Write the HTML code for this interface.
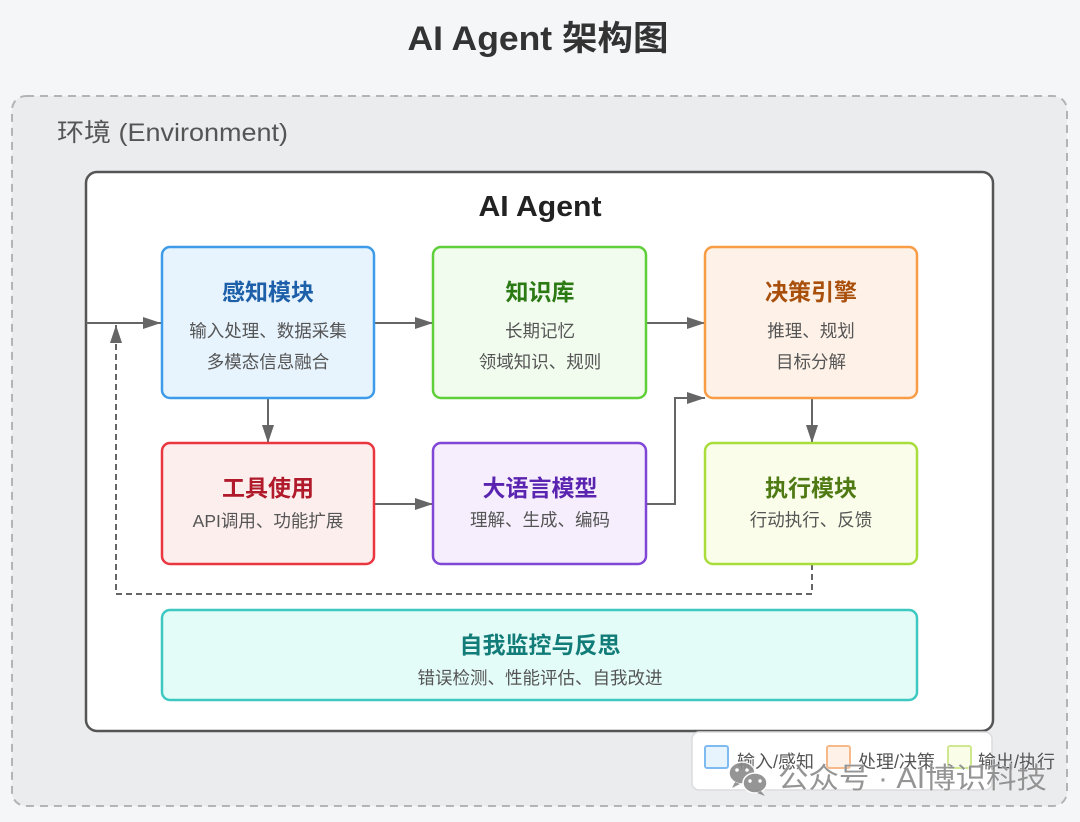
<!DOCTYPE html>
<html>
<head>
<meta charset="utf-8">
<style>
  html,body{margin:0;padding:0;background:#f5f6f8;}
  svg{display:block;}
  text{font-family:"Liberation Sans","Noto Sans CJK SC",sans-serif;}
</style>
</head>
<body>
<svg width="1080" height="822" viewBox="0 0 1080 822" xmlns="http://www.w3.org/2000/svg">
  <defs>
    <marker id="ah" viewBox="0 0 18 12" refX="18" refY="6" markerWidth="18" markerHeight="12" markerUnits="userSpaceOnUse" orient="auto">
      <path d="M0,0 L18,6 L0,12 z" fill="#666"/>
    </marker>
  </defs>
  <rect x="0" y="0" width="1080" height="822" fill="#f5f6f8"/>

  <!-- Title -->
  <text x="538" y="39" text-anchor="middle" dominant-baseline="central" font-size="34" font-weight="bold" fill="#333" textLength="261" lengthAdjust="spacingAndGlyphs">AI Agent 架构图</text>

  <!-- Environment -->
  <rect x="12" y="96" width="1055" height="710" rx="14" ry="14" fill="#ebecee" stroke="#b4b4b6" stroke-width="2" stroke-dasharray="8 6"/>
  <text x="57" y="133" dominant-baseline="central" font-size="25" fill="#555" textLength="231" lengthAdjust="spacingAndGlyphs">环境 (Environment)</text>

  <!-- Agent box -->
  <rect x="86" y="172" width="907" height="559" rx="11" ry="11" fill="#ffffff" stroke="#555" stroke-width="2.5"/>
  <text x="540" y="207" text-anchor="middle" dominant-baseline="central" font-size="29" font-weight="bold" fill="#222" textLength="123" lengthAdjust="spacingAndGlyphs">AI Agent</text>

  <!-- Legend -->
  <rect x="692" y="732" width="300" height="58" rx="7" ry="7" fill="#ffffff" stroke="#dcdcde" stroke-width="1.5"/>
  <rect x="705" y="746" width="23" height="22" rx="2" fill="#e7f4fe" stroke="#7fbaf0" stroke-width="2"/>
  <text x="737" y="762" dominant-baseline="central" font-size="18" fill="#555">输入/感知</text>
  <rect x="827" y="746" width="23" height="22" rx="2" fill="#fef1e7" stroke="#f8b98a" stroke-width="2"/>
  <text x="858" y="762" dominant-baseline="central" font-size="18" fill="#555">处理/决策</text>
  <rect x="948" y="746" width="23" height="22" rx="2" fill="#fafde8" stroke="#cfe88f" stroke-width="2"/>
  <text x="978" y="762" dominant-baseline="central" font-size="18" fill="#555">输出/执行</text>

  <!-- Connectors -->
  <g stroke="#666" stroke-width="2" fill="none">
    <line x1="86" y1="323" x2="161" y2="323" marker-end="url(#ah)"/>
    <line x1="374" y1="323" x2="433" y2="323" marker-end="url(#ah)"/>
    <line x1="646" y1="323" x2="705" y2="323" marker-end="url(#ah)"/>
    <line x1="268" y1="398" x2="268" y2="443" marker-end="url(#ah)"/>
    <line x1="374" y1="504" x2="433" y2="504" marker-end="url(#ah)"/>
    <polyline points="646,504 675,504 675,398 705,398" marker-end="url(#ah)"/>
    <line x1="812" y1="398" x2="812" y2="443" marker-end="url(#ah)"/>
    <polyline points="812,564 812,594 116,594 116,325" stroke-dasharray="6 4" marker-end="url(#ah)"/>
  </g>

  <!-- 感知模块 -->
  <rect x="162" y="247" width="212" height="151" rx="8" fill="#e7f4fe" stroke="#3d9be9" stroke-width="2.5"/>
  <text x="268" y="292" text-anchor="middle" dominant-baseline="central" font-size="23" font-weight="bold" fill="#1d5fa8">感知模块</text>
  <text x="268" y="331" text-anchor="middle" dominant-baseline="central" font-size="17.5" fill="#555">输入处理、数据采集</text>
  <text x="268" y="362" text-anchor="middle" dominant-baseline="central" font-size="17.5" fill="#555">多模态信息融合</text>

  <!-- 知识库 -->
  <rect x="433" y="247" width="213" height="151" rx="8" fill="#f1fcee" stroke="#5fcf3a" stroke-width="2.5"/>
  <text x="540" y="292" text-anchor="middle" dominant-baseline="central" font-size="23" font-weight="bold" fill="#2b7a14">知识库</text>
  <text x="540" y="331" text-anchor="middle" dominant-baseline="central" font-size="17.5" fill="#555">长期记忆</text>
  <text x="540" y="362" text-anchor="middle" dominant-baseline="central" font-size="17.5" fill="#555">领域知识、规则</text>

  <!-- 决策引擎 -->
  <rect x="705" y="247" width="212" height="151" rx="8" fill="#fef1e7" stroke="#f89c45" stroke-width="2.5"/>
  <text x="811" y="292" text-anchor="middle" dominant-baseline="central" font-size="23" font-weight="bold" fill="#a94f0c">决策引擎</text>
  <text x="811" y="331" text-anchor="middle" dominant-baseline="central" font-size="17.5" fill="#555">推理、规划</text>
  <text x="811" y="362" text-anchor="middle" dominant-baseline="central" font-size="17.5" fill="#555">目标分解</text>

  <!-- 工具使用 -->
  <rect x="162" y="443" width="212" height="121" rx="8" fill="#fdeeee" stroke="#e9363f" stroke-width="2.5"/>
  <text x="268" y="488" text-anchor="middle" dominant-baseline="central" font-size="23" font-weight="bold" fill="#b01a2b">工具使用</text>
  <text x="268" y="521" text-anchor="middle" dominant-baseline="central" font-size="17.5" fill="#555">API调用、功能扩展</text>

  <!-- 大语言模型 -->
  <rect x="433" y="443" width="213" height="121" rx="8" fill="#f6eefd" stroke="#8047d6" stroke-width="2.5"/>
  <text x="540" y="488" text-anchor="middle" dominant-baseline="central" font-size="23" font-weight="bold" fill="#5a24b0">大语言模型</text>
  <text x="540" y="520" text-anchor="middle" dominant-baseline="central" font-size="17.5" fill="#555">理解、生成、编码</text>

  <!-- 执行模块 -->
  <rect x="705" y="443" width="212" height="121" rx="8" fill="#f9fde9" stroke="#a8dd3b" stroke-width="2.5"/>
  <text x="811" y="488" text-anchor="middle" dominant-baseline="central" font-size="23" font-weight="bold" fill="#4f7a13">执行模块</text>
  <text x="811" y="520" text-anchor="middle" dominant-baseline="central" font-size="17.5" fill="#555">行动执行、反馈</text>

  <!-- 自我监控与反思 -->
  <rect x="162" y="610" width="755" height="90" rx="8" fill="#e4fcf8" stroke="#3ec8c2" stroke-width="2.5"/>
  <text x="540" y="645" text-anchor="middle" dominant-baseline="central" font-size="23" font-weight="bold" fill="#127c78">自我监控与反思</text>
  <text x="540" y="678" text-anchor="middle" dominant-baseline="central" font-size="17.5" fill="#555">错误检测、性能评估、自我改进</text>

  <!-- Watermark -->
  <g opacity="0.9">
    <ellipse cx="742" cy="773" rx="13" ry="11" fill="#8a8a8a" stroke="#fff" stroke-width="1.5"/>
    <path d="M735,782 l-3,6 l8,-4 z" fill="#8a8a8a"/>
    <circle cx="737" cy="770" r="1.8" fill="#fff"/>
    <circle cx="747" cy="770" r="1.8" fill="#fff"/>
    <ellipse cx="755" cy="783" rx="12" ry="10" fill="#8a8a8a" stroke="#fff" stroke-width="1.5"/>
    <path d="M761,791 l4,5 l-8,-3 z" fill="#8a8a8a"/>
    <circle cx="750" cy="781" r="1.7" fill="#fff"/>
    <circle cx="760" cy="781" r="1.7" fill="#fff"/>
    <text x="778" y="779" dominant-baseline="central" font-size="29" fill="#8a8a8a" stroke="#fff" stroke-width="0.6" paint-order="stroke" textLength="269" lengthAdjust="spacingAndGlyphs">公众号 · AI博识科技</text>
  </g>
</svg>
</body>
</html>
